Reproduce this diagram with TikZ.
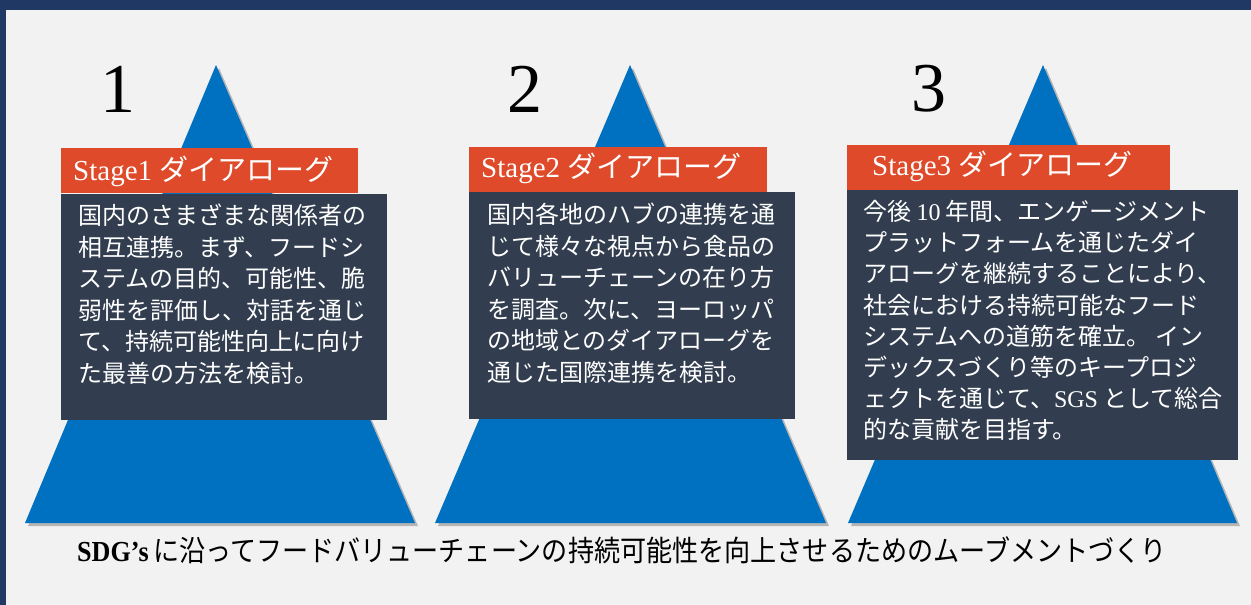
\documentclass[tikz,border=0pt]{standalone}
\usepackage{fontspec}
\usepackage{graphicx}
\setmainfont{Liberation Serif}
\newfontfamily\jp{Noto Sans CJK JP}
\newcommand{\latn}[1]{{\rmfamily #1}}
\usetikzlibrary{shadows}
\definecolor{framec}{HTML}{203864}
\definecolor{bgc}{HTML}{F2F2F2}
\definecolor{tric}{HTML}{0070C0}
\definecolor{orangec}{HTML}{DE4A2A}
\definecolor{boxc}{HTML}{323E4F}
\begin{document}
\begin{tikzpicture}[x=1pt,y=-1pt,
  tri/.style={fill=tric, drop shadow={shadow xshift=3pt, shadow yshift=-3pt, opacity=0.25, fill=black}},
  dbox/.style={rectangle, fill=boxc, inner sep=0pt, anchor=north west},
  bar/.style={rectangle, fill=orangec, inner sep=0pt, anchor=north west, minimum height=45},
  lbl/.style={text=white, inner sep=0pt, anchor=west, font=\fontsize{29}{30}\selectfont},
  num/.style={text=black, inner sep=0pt, font=\fontsize{70}{70}\selectfont},
  body/.style={text=white, inner sep=0pt, anchor=north west, align=left, font=\jp\fontsize{24}{31.5}\selectfont},
  captext/.style={text=black, inner sep=0pt}
]
\useasboundingbox (0,0) rectangle (1251,605);
\fill[bgc] (0,0) rectangle (1251,605);
\fill[framec] (0,0) rectangle (1251,10);
\fill[framec] (0,0) rectangle (6,605);

% triangles
\fill[tri] (216,65) -- (415,523) -- (25,523) -- cycle;
\fill[tri] (630,65) -- (826,523) -- (435,523) -- cycle;
\fill[tri] (1043,65) -- (1237,523) -- (848,523) -- cycle;

% numbers
\node[num] (n1) at (118,89) {1};
\node[num] (n2) at (525,89) {2};
\node[num] (n3) at (929,89) {3};

% dark boxes
\node[dbox, minimum width=326, minimum height=226] (box1) at (61,194) {};
\node[dbox, minimum width=326, minimum height=227] (box2) at (469,192) {};
\node[dbox, minimum width=391, minimum height=270] (box3) at (847,190) {};

% orange bars
\node[bar, minimum width=297] (bar1) at (61,148) {};
\node[bar, minimum width=298] (bar2) at (469,147) {};
\node[bar, minimum width=323] (bar3) at (847,145) {};

% labels
\node[lbl] (l1) at (73,171) {Stage1 {\jp ダイアローグ}};
\node[lbl] (l2) at (481,168) {Stage2 {\jp ダイアローグ}};
\node[lbl] (l3) at (872,166) {Stage3 {\jp ダイアローグ}};

% body texts
\node[body] (t1) at (78,204) {国内のさまざまな関係者の\\相互連携。まず、フードシ\\ステムの目的、可能性、脆\\弱性を評価し、対話を通じ\\て、持続可能性向上に向け\\た最善の方法を検討。};
\node[body] (t2) at (487,203) {国内各地のハブの連携を通\\じて様々な視点から食品の\\バリューチェーンの在り方\\を調査。次に、ヨーロッパ\\の地域とのダイアローグを\\通じた国際連携を検討。};
\node[body, font=\jp\fontsize{24}{31.2}\selectfont] (t3) at (863,200) {今後 \latn{10} 年間、エンゲージメント\\プラットフォームを通じたダイ\\アローグを継続することにより、\\社会における持続可能なフード\\システムへの道筋を確立。 イン\\デックスづくり等のキープロジ\\ェクトを通じて、\latn{SGS} として総合\\的な貢献を目指す。};

% caption
\node[captext] (caption) at (622,550) {\scalebox{0.9}[1]{\fontsize{29}{30}\selectfont\textbf{SDG’s}\,{\jp に沿ってフードバリューチェーンの持続可能性を向上させるためのムーブメントづくり}}};
\end{tikzpicture}
\end{document}
